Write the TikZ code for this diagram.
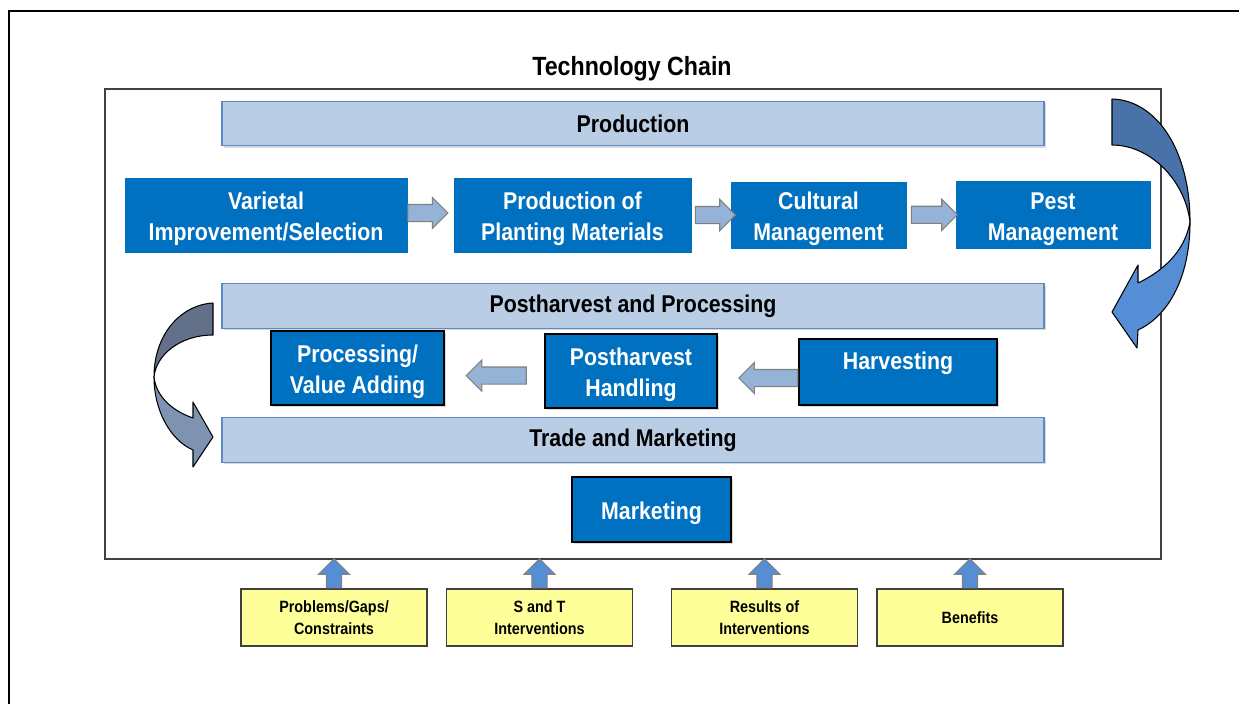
\documentclass[tikz,border=0pt]{standalone}
\usepackage{fontspec}
\newfontfamily\chainfont{Liberation Sans}[FakeStretch=0.88]
\usepackage{tikz}
\usetikzlibrary{arrows.meta,positioning,shapes.arrows,shadows,calc}

\definecolor{hdrfill}{HTML}{B9CDE5}
\definecolor{hdrline}{HTML}{5B8AC6}
\definecolor{stepblue}{HTML}{0070C0}
\definecolor{flowfill}{HTML}{95B3D7}
\definecolor{upfill}{HTML}{558ED5}
\definecolor{notefill}{HTML}{FFFF99}
\definecolor{turndarkR}{HTML}{4872A8}
\definecolor{turnlightR}{HTML}{558ED5}
\definecolor{turndarkL}{HTML}{627089}
\definecolor{turnlightL}{HTML}{7E93B2}

% taller first line, sits the box text a little lower
\newcommand{\lift}{\rule{0pt}{14.7pt}}

\begin{document}
\begin{tikzpicture}[x=0.02cm, y=-0.02cm,
		basic/.style  = {rectangle, inner sep=0pt, align=center},
		header/.style = {basic, draw=hdrline, fill=hdrfill, line width=0.8pt, minimum width=16.44cm, minimum height=0.89cm,
			drop shadow={opacity=0.3, shadow xshift=1.2pt, shadow yshift=-1.2pt},
			font=\chainfont\bfseries\fontsize{13.8}{17.6}\selectfont},
		stage/.style  = {basic, draw=stepblue, fill=stepblue, text=white,
			font=\chainfont\bfseries\fontsize{13.8}{17.6}\selectfont},
		task/.style   = {stage, draw=black, line width=0.8pt,
			drop shadow={opacity=0.3, shadow xshift=1.2pt, shadow yshift=-1.2pt}},
		note/.style   = {basic, draw=black!75, fill=notefill, line width=0.8pt, minimum width=3.72cm, minimum height=1.14cm,
			font=\chainfont\bfseries\fontsize{9.3}{12.5}\selectfont},
		flow/.style   = {single arrow, draw=black!50, fill=flowfill, line width=0.6pt, inner xsep=0pt, inner ysep=0.16cm,
			single arrow head extend=0.14cm},
		feed/.style   = {flow, fill=upfill, inner ysep=0.14cm, single arrow head extend=0.16cm, minimum height=0.58cm, rotate=90},
		turn/.style   = {draw=black, line width=0.6pt, line join=round}]

	\useasboundingbox (0,0) rectangle (1239,704);

	% page frame and title
	\draw[line width=1.2pt] (9,704) -- (9,11) -- (1239,11);
	\node[font=\chainfont\bfseries\fontsize{15}{18}\selectfont] (title) at (632,69) {Technology Chain};
	\node[basic, draw=black!75, line width=1.2pt, minimum width=21.12cm, minimum height=9.4cm] (frame) at (633,324) {};

	% the three phases
	\node[header] (hprod)  at (633,123.5) {Production};
	\node[header] (hpost)  at (633,306)   {Postharvest and Processing};
	\node[header] (htrade) at (633,440)   {Trade and Marketing};

	% production steps
	\node[stage, minimum width=5.64cm, minimum height=1.48cm] (s1) at (266,215)     {\lift Varietal\\Improvement/Selection};
	\node[stage, minimum width=4.74cm, minimum height=1.48cm] (s2) at (572.5,215)   {\lift Production of\\Planting Materials};
	\node[stage, minimum width=3.5cm,  minimum height=1.32cm] (s3) at (818.5,215)   {\lift Cultural\\Management};
	\node[stage, minimum width=3.88cm, minimum height=1.34cm] (s4) at (1053,214.5)  {\lift Pest\\Management};

	\node[flow, minimum height=0.8cm, anchor=tail]  at ([yshift=0.04cm]s1.east) {};
	\node[flow, minimum height=0.8cm]  at ($(s2.east)!0.5!(s3.west)$) {};
	\node[flow, minimum height=0.92cm] at ($(s3.east)!0.5!(s4.west)+(-1,0)$) {};

	% postharvest steps
	\node[task, minimum width=3.46cm, minimum height=1.48cm] (p1) at (357.5,368) {\lift Processing/\\Value Adding};
	\node[task, minimum width=3.44cm, minimum height=1.48cm] (p2) at (631,371)   {\lift Postharvest\\Handling};
	\node[task, minimum width=3.96cm, minimum height=1.32cm] (p3) at (898,372)   {\lift Harvesting\\\mbox{}};

	\node[flow, rotate=180, minimum height=1.2cm] at ($(p1.east)!0.5!(p2.west)+(6,6)$) {};
	\node[flow, rotate=180, minimum height=1.18cm, anchor=tail] at ([yshift=-0.12cm]p3.west) {};

	% trade
	\node[task, minimum width=3.18cm, minimum height=1.3cm] (m1) at (651.5,509.5) {\lift Marketing};

	% notes feeding the chain
	\node[note] (n1) at (334,617.5)   {Problems/Gaps/\\Constraints};
	\node[note] (n2) at (539.5,617.5) {S and T\\Interventions};
	\node[note] (n3) at (764.5,617.5) {Results of\\Interventions};
	\node[note] (n4) at (970,617.5)   {Benefits};

	\foreach \n in {1,...,4}
		\node[feed, anchor=tail] at (n\n.north) {};

	% turn from production down to postharvest
	\filldraw[turn, fill=turndarkR] (1112,99) .. controls (1155,100) and (1190,148) .. (1190,222)
		.. controls (1185,180) and (1150,145) .. (1112,145) -- cycle;
	\filldraw[turn, fill=turnlightR] (1190,222) .. controls (1190,275) and (1170,315) .. (1138,330)
		-- (1137,348) -- (1112,312) -- (1138,265) -- (1138,283)
		.. controls (1165,270) and (1185,250) .. (1190,222) -- cycle;

	% turn from postharvest down to trade
	\filldraw[turn, fill=turndarkL] (213,303) .. controls (180,305) and (154,335) .. (154,377)
		.. controls (156,355) and (180,335) .. (213,335) -- cycle;
	\filldraw[turn, fill=turnlightL] (154,377) .. controls (154,410) and (170,440) .. (193,450)
		-- (193,467) -- (213,437) -- (193,402) -- (193,418)
		.. controls (170,410) and (156,395) .. (154,377) -- cycle;

\end{tikzpicture}
\end{document}
